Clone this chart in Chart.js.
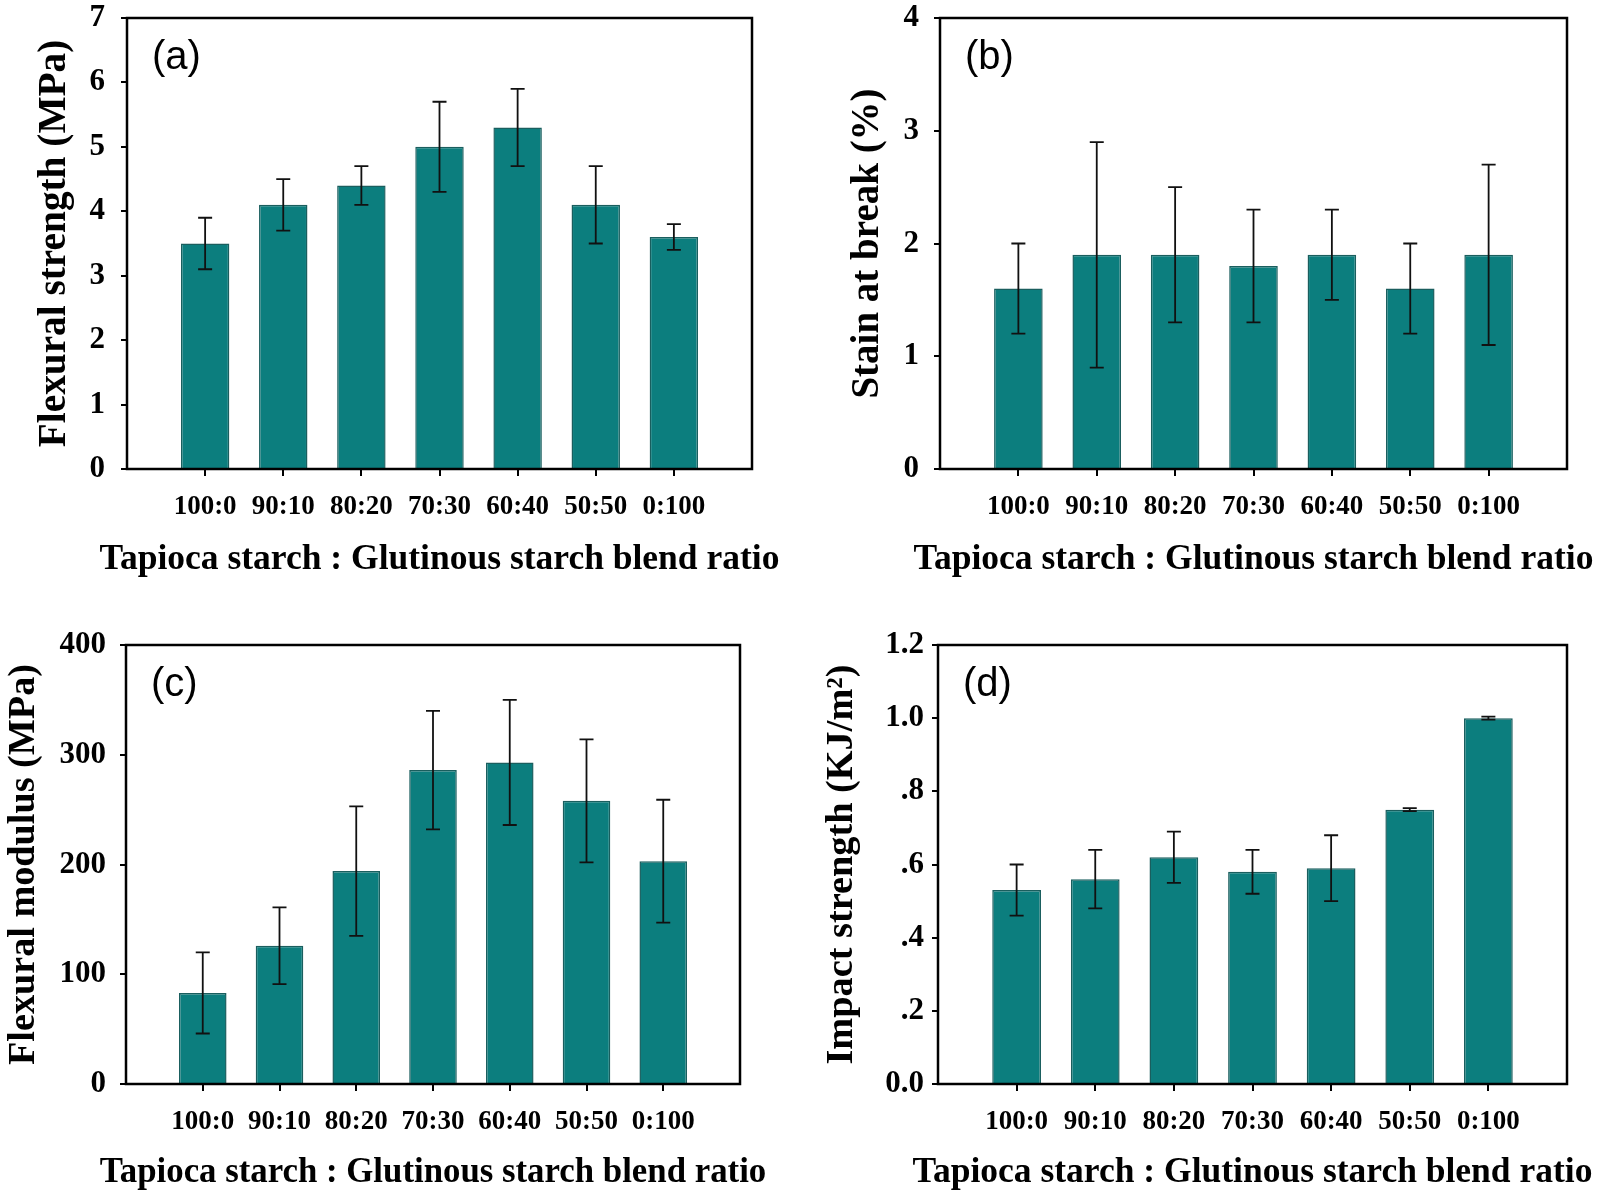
<!DOCTYPE html>
<html><head><meta charset="utf-8">
<script src="https://cdn.jsdelivr.net/npm/chart.js@4.4.1/dist/chart.umd.min.js"></script>
<style>
html,body{margin:0;padding:0;background:#fff;width:1600px;height:1192px;overflow:hidden;}
canvas{position:absolute;}
</style></head><body>
<canvas id="ca" width="800" height="600" style="left:0px;top:0px"></canvas>
<canvas id="cb" width="800" height="600" style="left:800px;top:0px"></canvas>
<canvas id="cc" width="800" height="592" style="left:0px;top:600px"></canvas>
<canvas id="cd" width="800" height="592" style="left:800px;top:600px"></canvas>
<script>
// ---- data ----
const categories = ['100:0','90:10','80:20','70:30','60:40','50:50','0:100'];
const flexStrength    = [3.5, 4.1, 4.4, 5.0, 5.3, 4.1, 3.6];
const flexStrengthErr = [0.4, 0.4, 0.3, 0.7, 0.6, 0.6, 0.2];
const strainBreak     = [1.6, 1.9, 1.9, 1.8, 1.9, 1.6, 1.9];
const strainBreakErr  = [0.4, 1.0, 0.6, 0.5, 0.4, 0.4, 0.8];
const flexModulus     = [83, 126, 194, 286, 293, 258, 203];
const flexModulusErr  = [37, 35, 59, 54, 57, 56, 56];
const impactStrength    = [0.53, 0.56, 0.62, 0.58, 0.59, 0.75, 1.00];
const impactStrengthErr = [0.07, 0.08, 0.07, 0.06, 0.09, 0.004, 0.004];
const yTicksA = ['0','1','2','3','4','5','6','7'];
const yTicksB = ['0','1','2','3','4'];
const yTicksC = ['0','100','200','300','400'];
const yTicksD = ['0.0','.2','.4','.6','.8','1.0','1.2'];
const xTitle = 'Tapioca starch : Glutinous starch blend ratio';
const yTitles = ['Flexural strength (MPa)','Stain at break (%)','Flexural modulus (MPa)','Impact strength (KJ/m\u00B2)'];
const panelLabels = ['(a)','(b)','(c)','(d)'];

// ---- style ----
const SERIF = '"Liberation Serif", "Times New Roman", serif';
const BAR_FILL = '#0c7e7e';
const BAR_EDGE = '#1a5e5e';
Chart.defaults.animation = false;
Chart.defaults.color = '#000';

const framePlugin = {
  id: 'frame',
  afterDatasetsDraw(chart) {
    const {ctx, chartArea: a} = chart;
    ctx.save();
    ctx.strokeStyle = '#000';
    ctx.lineWidth = 2.5;
    ctx.strokeRect(a.left, a.top, a.right - a.left, a.bottom - a.top);
    ctx.restore();
  }
};
const errorPlugin = {
  id: 'errbars',
  afterDatasetsDraw(chart, args, opts) {
    const {ctx} = chart;
    const y = chart.scales.y;
    const meta = chart.getDatasetMeta(0);
    const vals = chart.data.datasets[0].data;
    const errs = opts.errors;
    ctx.save();
    ctx.strokeStyle = '#111';
    ctx.lineWidth = 1.8;
    meta.data.forEach((el, i) => {
      const v = vals[i];
      if (v === null || v === undefined) return;
      const e = errs[i - 1];
      const x = el.x;
      const yt = y.getPixelForValue(v + e);
      const yb = y.getPixelForValue(v - e);
      ctx.beginPath();
      ctx.moveTo(x, yt); ctx.lineTo(x, yb);
      ctx.moveTo(x - 7, yt); ctx.lineTo(x + 7, yt);
      ctx.moveTo(x - 7, yb); ctx.lineTo(x + 7, yb);
      ctx.stroke();
    });
    ctx.restore();
  }
};
const labelPlugin = {
  id: 'panelLabel',
  afterDraw(chart, args, opts) {
    const {ctx, chartArea: a} = chart;
    ctx.save();
    ctx.fillStyle = '#000';
    ctx.font = '40px "Liberation Sans", Arial, sans-serif';
    ctx.textBaseline = 'middle';
    ctx.textAlign = 'left';
    ctx.fillText(opts.text, a.left + 25, a.top + 40);
    ctx.restore();
  }
};
const xTitlePlugin = {
  id: 'xTitle',
  afterDraw(chart, args, opts) {
    const {ctx, chartArea: a} = chart;
    ctx.save();
    ctx.fillStyle = '#000';
    ctx.font = 'bold ' + opts.size + 'px ' + SERIF;
    ctx.textBaseline = 'middle';
    ctx.textAlign = 'center';
    ctx.fillText(opts.text, (a.left + a.right) / 2, a.bottom + opts.offset);
    ctx.restore();
  }
};

function makePanel(id, p) {
  const labels = [''].concat(categories, ['']);
  const data = [null].concat(p.values, [null]);
  const last = labels.length - 1;
  return new Chart(document.getElementById(id), {
    type: 'bar',
    data: {
      labels: labels,
      datasets: [{
        data: data,
        backgroundColor: BAR_FILL,
        borderColor: BAR_EDGE,
        borderWidth: 1.5,
        categoryPercentage: 1.0,
        barPercentage: 0.62
      }]
    },
    options: {
      responsive: false,
      devicePixelRatio: 1,
      layout: {padding: {top: p.padTop, right: p.padRight, bottom: p.padBottom, left: 0}},
      plugins: {
        legend: {display: false},
        tooltip: {enabled: false},
        errbars: {errors: p.errors},
        panelLabel: {text: p.label},
        xTitle: {text: xTitle, offset: p.xTitleOffset, size: p.xTitleSize}
      },
      scales: {
        x: {
          type: 'category',
          offset: false,
          grid: {
            offset: false, display: true, drawOnChartArea: false, drawTicks: true, tickLength: 7,
            lineWidth: 2,
            color: c => (c.index === 0 || c.index === last) ? 'rgba(0,0,0,0)' : '#000'
          },
          border: {display: false},
          ticks: {
            autoSkip: false, maxRotation: 0, minRotation: 0, padding: 15,
            font: {family: SERIF, size: 27, weight: 'bold'}, color: '#000'
          },
          title: {display: false},
          afterFit: s => { s.height = p.xAxisH; }
        },
        y: {
          min: 0, max: p.yMax,
          grid: {display: true, drawOnChartArea: false, drawTicks: true, tickLength: 6, lineWidth: 2, color: '#000'},
          border: {display: false},
          ticks: {
            stepSize: p.yStep, padding: p.tickPad,
            font: {family: SERIF, size: 31, weight: 'bold'}, color: '#000',
            callback: (v, i) => p.yTicks[i]
          },
          title: {
            display: true, text: p.yTitle, padding: {top: p.yTitlePad, bottom: 0},
            font: {family: SERIF, size: p.yTitleSize, weight: 'bold'}, color: '#000'
          },
          afterFit: s => { s.width = p.yAxisW; s.paddingTop = 0; s.paddingBottom = 0; }
        }
      }
    },
    plugins: [framePlugin, errorPlugin, labelPlugin, xTitlePlugin]
  });
}

makePanel('ca', {values: flexStrength, errors: flexStrengthErr, yMax: 7, yStep: 1, yTicks: yTicksA,
  yTitle: yTitles[0], yTitleSize: 39.3, label: panelLabels[0], padTop: 18, padRight: 48, padBottom: 23, xAxisH: 108,
  xTitleOffset: 91, xTitleSize: 35.5, yAxisW: 127, yTitlePad: 31, tickPad: 16});
makePanel('cb', {values: strainBreak, errors: strainBreakErr, yMax: 4, yStep: 1, yTicks: yTicksB,
  yTitle: yTitles[1], yTitleSize: 39, label: panelLabels[1], padTop: 18, padRight: 33, padBottom: 23, xAxisH: 108,
  xTitleOffset: 91, xTitleSize: 35.5, yAxisW: 140, yTitlePad: 45, tickPad: 15});
makePanel('cc', {values: flexModulus, errors: flexModulusErr, yMax: 400, yStep: 100, yTicks: yTicksC,
  yTitle: yTitles[2], yTitleSize: 38.2, label: panelLabels[2], padTop: 45, padRight: 60, padBottom: 1, xAxisH: 107,
  xTitleOffset: 89, xTitleSize: 34.8, yAxisW: 126, yTitlePad: 1, tickPad: 14});
makePanel('cd', {values: impactStrength, errors: impactStrengthErr, yMax: 1.2, yStep: 0.2, yTicks: yTicksD,
  yTitle: yTitles[3], yTitleSize: 38.3, label: panelLabels[3], padTop: 45, padRight: 33, padBottom: 1, xAxisH: 107,
  xTitleOffset: 89, xTitleSize: 35.5, yAxisW: 138, yTitlePad: 19, tickPad: 8});
</script>
</body></html>
